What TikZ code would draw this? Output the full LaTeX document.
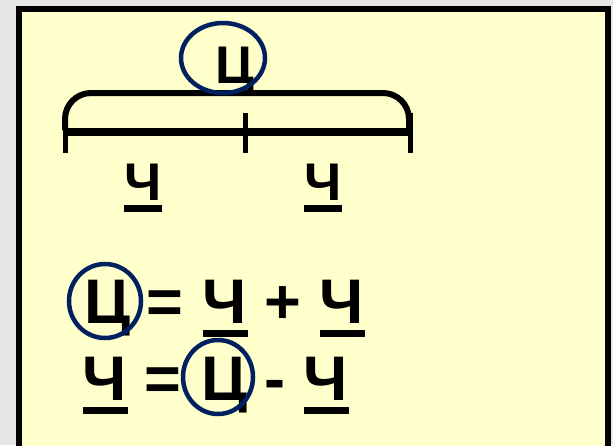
\documentclass[tikz,border=0pt]{standalone}
\usepackage{fontspec}
\setmainfont{Liberation Sans}
\definecolor{bgpaper}{RGB}{231,231,231}
\definecolor{boxyellow}{RGB}{255,255,204}
\definecolor{navy}{RGB}{0,32,96}
\begin{document}
\begin{tikzpicture}[x=1pt,y=-1pt,
  glyph/.style={inner sep=0pt,anchor=base,font=\bfseries\fontsize{63}{63}\selectfont},
  smallglyph/.style={inner sep=0pt,anchor=base,font=\bfseries\fontsize{53}{53}\selectfont},
  ul/.style={line width=7pt},
  ring/.style={draw=navy,line width=4.5pt},
  segline/.style={line width=8.5pt},
  tick/.style={line width=5pt},
  capline/.style={line width=6pt,rounded corners=26pt}]
\useasboundingbox (0,0) rectangle (613,445);
\fill[bgpaper] (0,0) rectangle (613,445);
\draw[line width=6pt,fill=boxyellow] (19,9) rectangle (608,452);
% scheme on top
\coordinate (sl) at (63,132);
\coordinate (sr) at (413,132);
\coordinate (tl1) at (65,113); \coordinate (tl2) at (65,153);
\coordinate (tm1) at (245,113); \coordinate (tm2) at (245,153);
\coordinate (tr1) at (410,113); \coordinate (tr2) at (410,153);
\coordinate (cl) at (65,130); \coordinate (cla) at (65,93);
\coordinate (cra) at (409,93); \coordinate (cr) at (409,130);
\draw[capline] (cl) -- (cla) -- (cra) -- (cr);
\draw[segline] (sl) -- (sr);
\draw[tick] (tl1) -- (tl2);
\draw[tick] (tm1) -- (tm2);
\draw[tick] (tr1) -- (tr2);
\node[smallglyph] (topc) at (235,83) {Ц};
\draw[ring] (223,58) ellipse [x radius=42pt, y radius=35pt];
\node[smallglyph] (ta) at (143,200) {Ч};
\node[smallglyph] (tb) at (323,200) {Ч};
\draw[ul] ([xshift=-19pt,yshift=-8.5pt]ta.base) -- ([xshift=19pt,yshift=-8.5pt]ta.base);
\draw[ul] ([xshift=-19pt,yshift=-8.5pt]tb.base) -- ([xshift=19pt,yshift=-8.5pt]tb.base);
% line 1
\node[glyph] (c1) at (108,323) {Ц};
\node[glyph] (e1) at (165,323) {=};
\node[glyph] (a1) at (225,323) {Ч};
\node[glyph] (p1) at (283,323) {+};
\node[glyph] (b1) at (342,323) {Ч};
\draw[ring] (105,301) ellipse [x radius=36pt, y radius=37pt];
\draw[ul] ([xshift=-22.5pt,yshift=-10.5pt]a1.base) -- ([xshift=22.5pt,yshift=-10.5pt]a1.base);
\draw[ul] ([xshift=-22.5pt,yshift=-10.5pt]b1.base) -- ([xshift=22.5pt,yshift=-10.5pt]b1.base);
% line 2
\node[glyph] (a2) at (105,400) {Ч};
\node[glyph] (e2) at (163,400) {=};
\node[glyph] (c2) at (225,400) {Ц};
\node[glyph] (m2) at (275,400) {-};
\node[glyph] (b2) at (326,400) {Ч};
\draw[ring] (218,377) ellipse [x radius=35pt, y radius=37pt];
\draw[ul] ([xshift=-22.5pt,yshift=-10pt]a2.base) -- ([xshift=22.5pt,yshift=-10pt]a2.base);
\draw[ul] ([xshift=-22.5pt,yshift=-10pt]b2.base) -- ([xshift=22.5pt,yshift=-10pt]b2.base);
\end{tikzpicture}
\end{document}
